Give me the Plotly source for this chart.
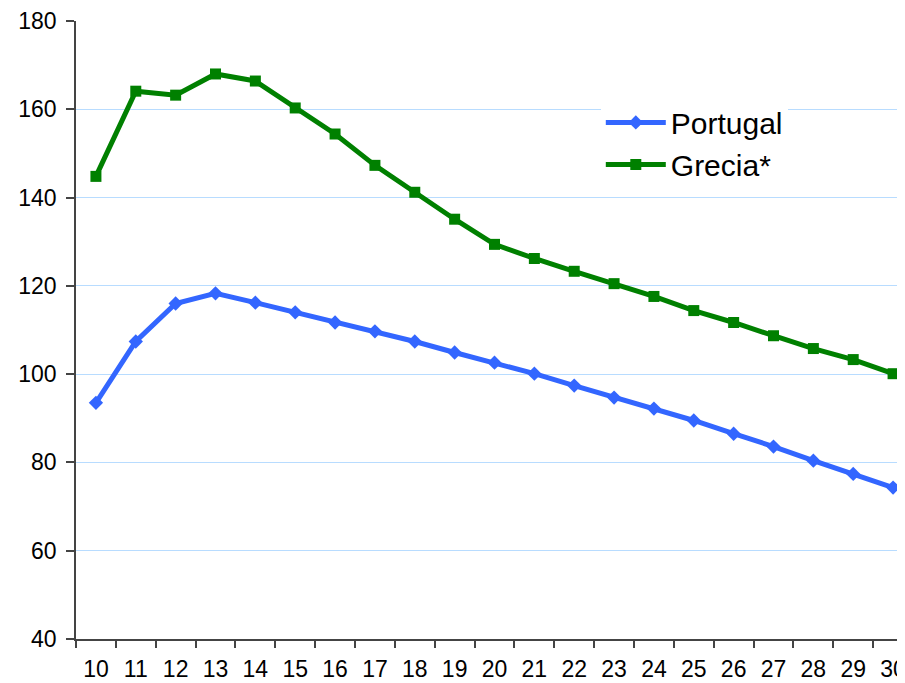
import plotly.graph_objects as go

years = [str(y) for y in range(10, 31)]
portugal = [93.5, 107.4, 116.0, 118.3, 116.2, 114.0, 111.7, 109.7, 107.4, 104.9,
            102.6, 100.1, 97.4, 94.7, 92.2, 89.5, 86.5, 83.6, 80.4, 77.4, 74.3]
grecia = [144.8, 164.1, 163.2, 168.0, 166.4, 160.3, 154.4, 147.3, 141.2, 135.1,
          129.4, 126.2, 123.3, 120.5, 117.6, 114.4, 111.7, 108.7, 105.8, 103.3, 100.1]

fig = go.Figure()
fig.add_trace(go.Scatter(x=years, y=portugal, name="Portugal", mode="lines+markers",
                         line=dict(color="#3366FF", width=5),
                         marker=dict(symbol="diamond", size=11, color="#3366FF")))
fig.add_trace(go.Scatter(x=years, y=grecia, name="Grecia*", mode="lines+markers",
                         line=dict(color="#008000", width=5),
                         marker=dict(symbol="square", size=11, color="#008000")))

# page body has an 8px default margin; compensate so the plot area sits where the reference has it
fig.update_layout(
    width=905, height=683,
    margin=dict(l=68, r=0, t=13, b=52),
    plot_bgcolor="white", paper_bgcolor="white",
    font=dict(family="Arial, Liberation Sans, sans-serif", color="black", size=23),
    showlegend=True,
    legend=dict(x=0.627, y=0.878, xanchor="left", yanchor="top",
                bgcolor="white", borderwidth=0,
                font=dict(size=30), itemwidth=60, tracegroupgap=0),
    xaxis=dict(type="category", range=[-0.5, 20.5], tickson="boundaries",
               ticks="outside", ticklen=7, tickcolor="#444", tickwidth=1.5,
               showline=True, linecolor="#444", linewidth=1.5,
               showgrid=False, zeroline=False, automargin=False,
               ticklabelstandoff=9),
    yaxis=dict(range=[40, 180], dtick=20, tick0=40,
               ticks="outside", ticklen=8, tickcolor="#444", tickwidth=1.5,
               showline=True, linecolor="#444", linewidth=1.5,
               showgrid=True, gridcolor="#B8DCFF", gridwidth=1.2,
               zeroline=False, ticklabelstandoff=5, automargin=False),
)

fig.write_html("out.html")
